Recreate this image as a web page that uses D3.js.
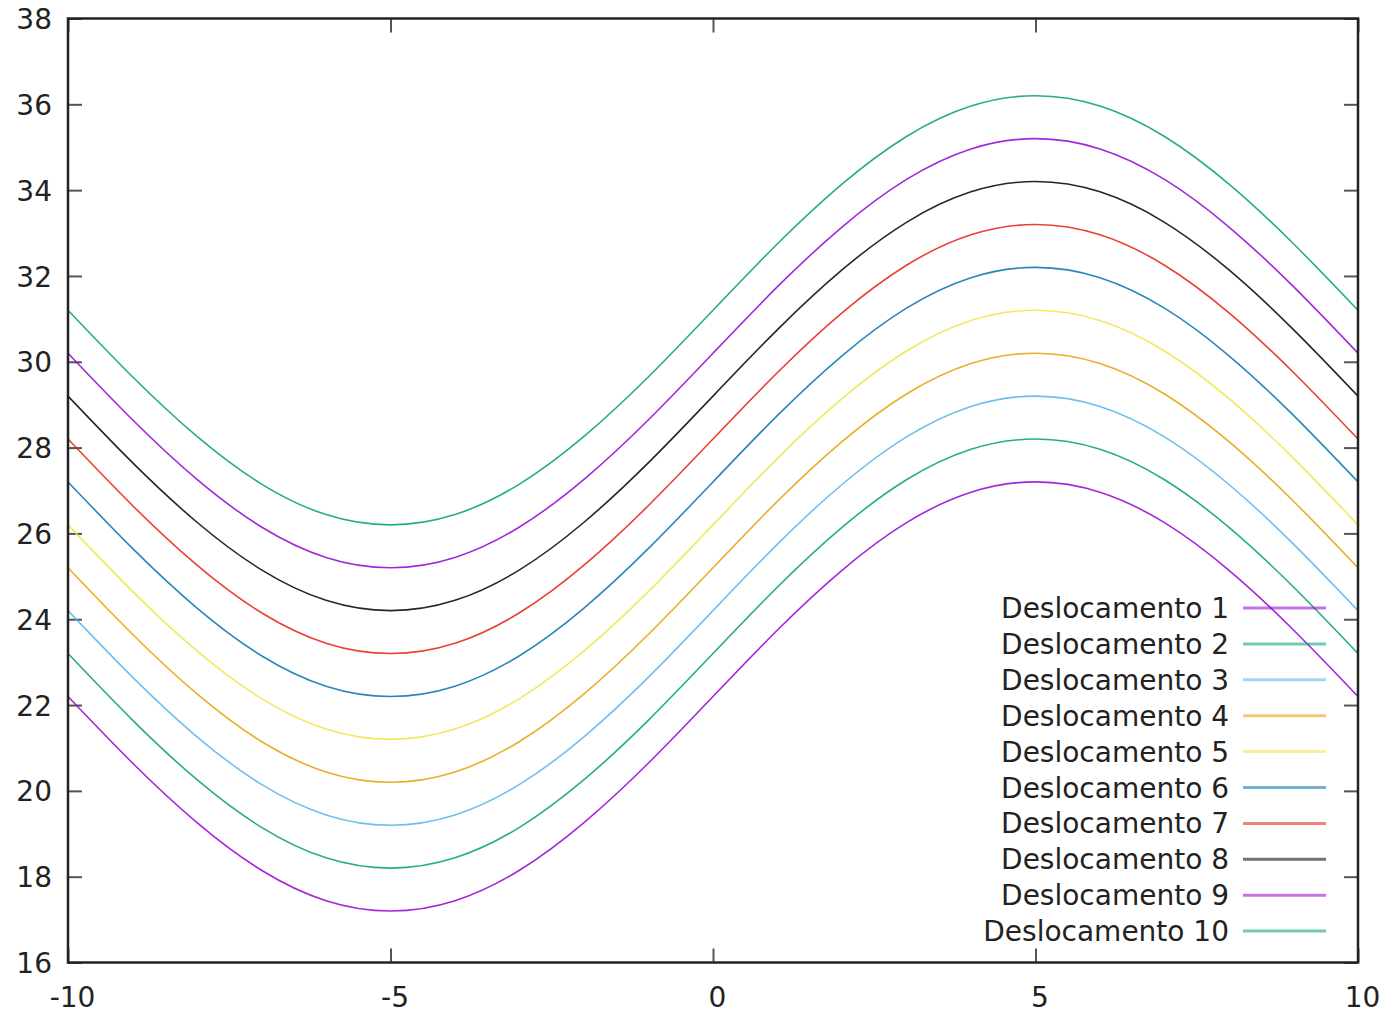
<!DOCTYPE html>
<html>
<head>
<meta charset="utf-8">
<script src="https://cdn.jsdelivr.net/npm/d3@7"></script>
<style>
  html, body { margin: 0; padding: 0; background: #fff; }
  svg { display: block; font-family: "DejaVu Sans", sans-serif; }
</style>
</head>
<body>
<svg id="chart" width="1396" height="1015"></svg>
<script>
// Sample positions along the x axis
const xValues = [-10, -9, -8, -7, -6, -5, -4, -3, -2, -1, 0, 1, 2, 3, 4, 5, 6, 7, 8, 9, 10];

// One displacement curve per series
const deslocamento1  = [22.2, 20.65, 19.26, 18.15, 17.44, 17.2, 17.44, 18.15, 19.26, 20.65, 22.2, 23.75, 25.14, 26.25, 26.96, 27.2, 26.96, 26.25, 25.14, 23.75, 22.2];
const deslocamento2  = [23.2, 21.65, 20.26, 19.15, 18.44, 18.2, 18.44, 19.15, 20.26, 21.65, 23.2, 24.75, 26.14, 27.25, 27.96, 28.2, 27.96, 27.25, 26.14, 24.75, 23.2];
const deslocamento3  = [24.2, 22.65, 21.26, 20.15, 19.44, 19.2, 19.44, 20.15, 21.26, 22.65, 24.2, 25.75, 27.14, 28.25, 28.96, 29.2, 28.96, 28.25, 27.14, 25.75, 24.2];
const deslocamento4  = [25.2, 23.65, 22.26, 21.15, 20.44, 20.2, 20.44, 21.15, 22.26, 23.65, 25.2, 26.75, 28.14, 29.25, 29.96, 30.2, 29.96, 29.25, 28.14, 26.75, 25.2];
const deslocamento5  = [26.2, 24.65, 23.26, 22.15, 21.44, 21.2, 21.44, 22.15, 23.26, 24.65, 26.2, 27.75, 29.14, 30.25, 30.96, 31.2, 30.96, 30.25, 29.14, 27.75, 26.2];
const deslocamento6  = [27.2, 25.65, 24.26, 23.15, 22.44, 22.2, 22.44, 23.15, 24.26, 25.65, 27.2, 28.75, 30.14, 31.25, 31.96, 32.2, 31.96, 31.25, 30.14, 28.75, 27.2];
const deslocamento7  = [28.2, 26.65, 25.26, 24.15, 23.44, 23.2, 23.44, 24.15, 25.26, 26.65, 28.2, 29.75, 31.14, 32.25, 32.96, 33.2, 32.96, 32.25, 31.14, 29.75, 28.2];
const deslocamento8  = [29.2, 27.65, 26.26, 25.15, 24.44, 24.2, 24.44, 25.15, 26.26, 27.65, 29.2, 30.75, 32.14, 33.25, 33.96, 34.2, 33.96, 33.25, 32.14, 30.75, 29.2];
const deslocamento9  = [30.2, 28.65, 27.26, 26.15, 25.44, 25.2, 25.44, 26.15, 27.26, 28.65, 30.2, 31.75, 33.14, 34.25, 34.96, 35.2, 34.96, 34.25, 33.14, 31.75, 30.2];
const deslocamento10 = [31.2, 29.65, 28.26, 27.15, 26.44, 26.2, 26.44, 27.15, 28.26, 29.65, 31.2, 32.75, 34.14, 35.25, 35.96, 36.2, 35.96, 35.25, 34.14, 32.75, 31.2];

const seriesNames = ["Deslocamento 1", "Deslocamento 2", "Deslocamento 3", "Deslocamento 4", "Deslocamento 5",
                     "Deslocamento 6", "Deslocamento 7", "Deslocamento 8", "Deslocamento 9", "Deslocamento 10"];
const seriesValues = [deslocamento1, deslocamento2, deslocamento3, deslocamento4, deslocamento5,
                      deslocamento6, deslocamento7, deslocamento8, deslocamento9, deslocamento10];
const seriesColors = ["#9400d3", "#009e73", "#56b4e9", "#e69f00", "#f0e442",
                      "#0072b2", "#e51e10", "#000000", "#9400d3", "#009e73"];

const xTicks = [-10, -5, 0, 5, 10];
const yTicks = [16, 18, 20, 22, 24, 26, 28, 30, 32, 34, 36, 38];

const plot = { left: 68, right: 1358, top: 18.5, bottom: 962.5 };
const fontSize = 28;

const svg = d3.select("#chart");

const x = d3.scaleLinear().domain([-10, 10]).range([plot.left, plot.right]);
const y = d3.scaleLinear().domain([16, 38]).range([plot.bottom, plot.top]);

const tickLen = 14;
const axisColor = "#222";
const tickColor = "#555";
// plain hyphen for negative numbers
const fmt = d => String(d);

// Inward ticks on all four sides
const axes = svg.append("g").attr("class", "axes");

const xAxisBottom = axes.append("g")
  .attr("transform", `translate(0,${plot.bottom})`)
  .call(d3.axisBottom(x).tickValues(xTicks).tickSize(-tickLen).tickPadding(25).tickFormat(fmt))
  .call(g => g.select(".domain").remove());
xAxisBottom.selectAll(".tick text").attr("dx", 4);

axes.append("g")
  .attr("transform", `translate(0,${plot.top})`)
  .call(d3.axisTop(x).tickValues(xTicks).tickSize(-tickLen).tickFormat(""))
  .call(g => g.select(".domain").remove());

const yAxisLeft = axes.append("g")
  .attr("transform", `translate(${plot.left},0)`)
  .call(d3.axisLeft(y).tickValues(yTicks).tickSize(-tickLen).tickPadding(16).tickFormat(fmt))
  .call(g => g.select(".domain").remove());
yAxisLeft.selectAll(".tick text").attr("dy", "0.36em");

axes.append("g")
  .attr("transform", `translate(${plot.right},0)`)
  .call(d3.axisRight(y).tickValues(yTicks).tickSize(-tickLen).tickFormat(""))
  .call(g => g.select(".domain").remove());

axes.selectAll(".tick line").attr("stroke", tickColor).attr("stroke-width", 2);
axes.selectAll(".tick text")
  .attr("fill", "#222")
  .style("font-size", fontSize + "px")
  .style("font-family", "'DejaVu Sans', sans-serif");

// Curves
const line = d3.line()
  .x((d, i) => x(xValues[i]))
  .y(d => y(d))
  .curve(d3.curveNatural);

const curves = svg.append("g").attr("class", "curves");
seriesValues.forEach((vals, i) => {
  curves.append("path")
    .datum(vals)
    .attr("d", line)
    .attr("fill", "none")
    .attr("stroke", seriesColors[i])
    .attr("stroke-width", 1.6)
    .attr("stroke-opacity", 0.85);
});

// Legend
const legend = svg.append("g").attr("class", "legend");
const legendTextX = 1229, legendLineX1 = 1243, legendLineX2 = 1326;
const legendTop = 608, legendStep = 35.9;
seriesNames.forEach((name, i) => {
  const ly = legendTop + i * legendStep;
  legend.append("text")
    .attr("x", legendTextX)
    .attr("y", ly)
    .attr("dy", "0.36em")
    .attr("text-anchor", "end")
    .attr("fill", "#222")
    .style("font-size", fontSize + "px")
    .text(name);
  legend.append("line")
    .attr("x1", legendLineX1).attr("x2", legendLineX2)
    .attr("y1", ly).attr("y2", ly)
    .attr("stroke", seriesColors[i])
    .attr("stroke-width", 3)
    .attr("stroke-opacity", 0.55);
});

// Plot border
svg.append("rect")
  .attr("x", plot.left).attr("y", plot.top)
  .attr("width", plot.right - plot.left)
  .attr("height", plot.bottom - plot.top)
  .attr("fill", "none")
  .attr("stroke", axisColor)
  .attr("stroke-width", 2.5);
</script>
</body>
</html>
